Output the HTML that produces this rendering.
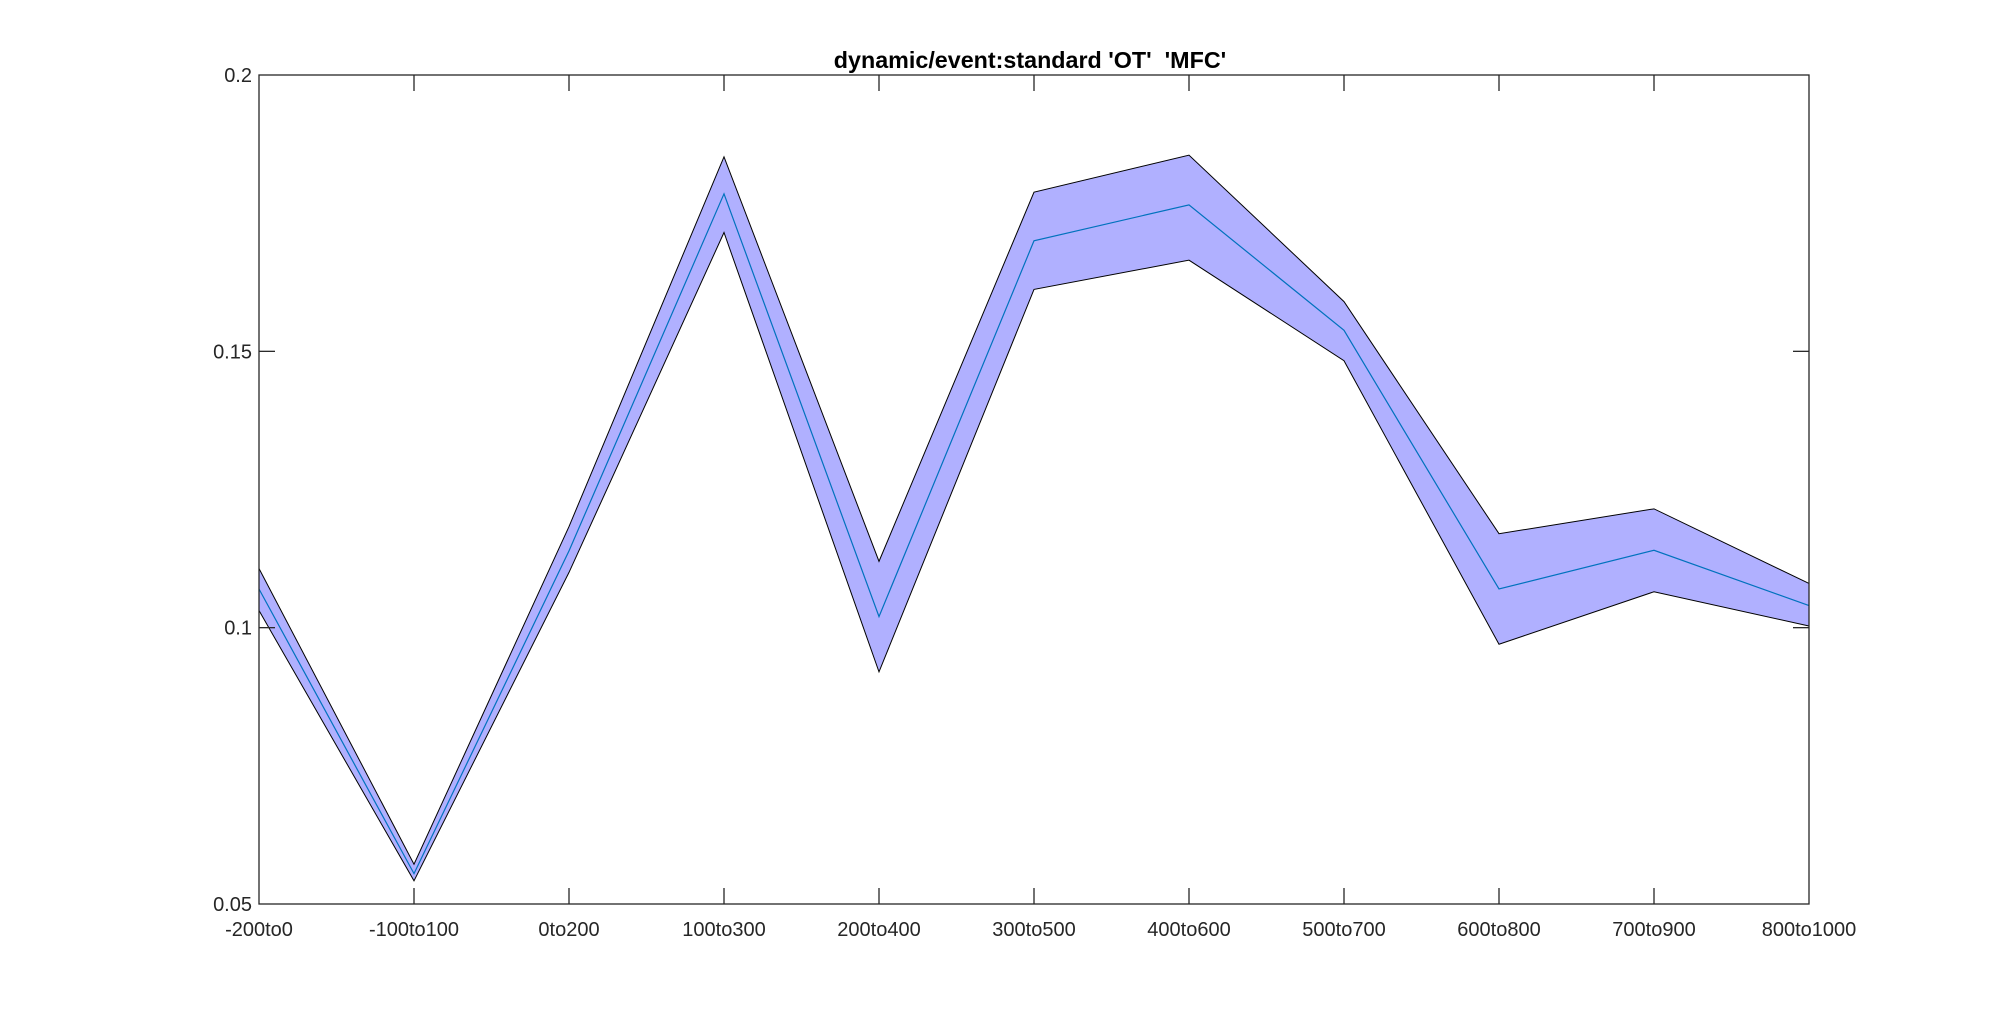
<!DOCTYPE html>
<html><head><meta charset="utf-8"><style>
html,body{margin:0;padding:0;background:#fff;}
svg{display:block;font-family:"Liberation Sans",Arial,sans-serif;}
</style></head><body>
<svg id="chart" width="2000" height="1016">
<rect width="2000" height="1016" fill="#fff"/>
<text x="1030" y="68" text-anchor="middle" font-size="23.3" font-weight="bold" fill="#000">dynamic/event:standard 'OT' &#160;'MFC'</text>
<g id="plot"></g>
</svg>
<script>
const categories=['-200to0','-100to100','0to200','100to300','200to400','300to500','400to600','500to700','600to800','700to900','800to1000'];
const meanVals=[0.107,0.0555,0.1139,0.1785,0.102,0.170,0.1765,0.1538,0.107,0.114,0.104];
const upperVals=[0.1107,0.0572,0.1183,0.1852,0.112,0.1788,0.1855,0.159,0.117,0.1215,0.108];
const lowerVals=[0.1031,0.0542,0.110,0.1715,0.092,0.1612,0.1665,0.1483,0.097,0.1065,0.1003];
const yTicks=[0.05,0.1,0.15,0.2];
const yTickLabels=['0.05','0.1','0.15','0.2'];

const L=259,R=1809,T=75,B=904,yMin=0.05,yMax=0.2;
const NS='http://www.w3.org/2000/svg';
const g=document.getElementById('plot');
const xs=i=>L+i*(R-L)/(categories.length-1);
const ys=v=>B-(v-yMin)/(yMax-yMin)*(B-T);
function mk(t,a){const e=document.createElementNS(NS,t);for(const k in a)e.setAttribute(k,a[k]);g.appendChild(e);return e;}

const up=upperVals.map((v,i)=>xs(i)+','+ys(v));
const lo=lowerVals.map((v,i)=>xs(i)+','+ys(v)).reverse();
const band=mk('polygon',{points:up.concat(lo).join(' '),fill:'#b0b0ff',stroke:'none'});


const ul=mk('polyline',{points:up.join(' '),fill:'none',stroke:'#000','stroke-width':1});


const ll=mk('polyline',{points:lo.join(' '),fill:'none',stroke:'#000','stroke-width':1});


const ml=mk('polyline',{points:meanVals.map((v,i)=>xs(i)+','+ys(v)).join(' '),fill:'none',stroke:'#0072bd','stroke-width':1.2});



const box=mk('rect',{x:L,y:T,width:R-L,height:B-T,fill:'none',stroke:'#262626','stroke-width':1.3});



categories.forEach((c,i)=>{
  const x=xs(i);
  if(i>0&&i<categories.length-1){
    const t1=mk('line',{x1:x,x2:x,y1:B,y2:B-16,stroke:'#262626','stroke-width':1.3});
    
    
    const t2=mk('line',{x1:x,x2:x,y1:T,y2:T+16,stroke:'#262626','stroke-width':1.3});
    
    
  }
  const tx=mk('text',{x:x,y:936,'text-anchor':'middle','font-size':20,fill:'#262626'});
  tx.textContent=c;
  
  
});
yTicks.forEach((v,i)=>{
  const y=ys(v);
  if(i>0&&i<yTicks.length-1){
    const t1=mk('line',{x1:L,x2:L+16,y1:y,y2:y,stroke:'#262626','stroke-width':1.3});
    
    
    const t2=mk('line',{x1:R,x2:R-16,y1:y,y2:y,stroke:'#262626','stroke-width':1.3});
    
    
  }
  const tx=mk('text',{x:252,y:y+7,'text-anchor':'end','font-size':20,fill:'#262626'});
  tx.textContent=yTickLabels[i];
  
  
});
</script>
</body></html>
